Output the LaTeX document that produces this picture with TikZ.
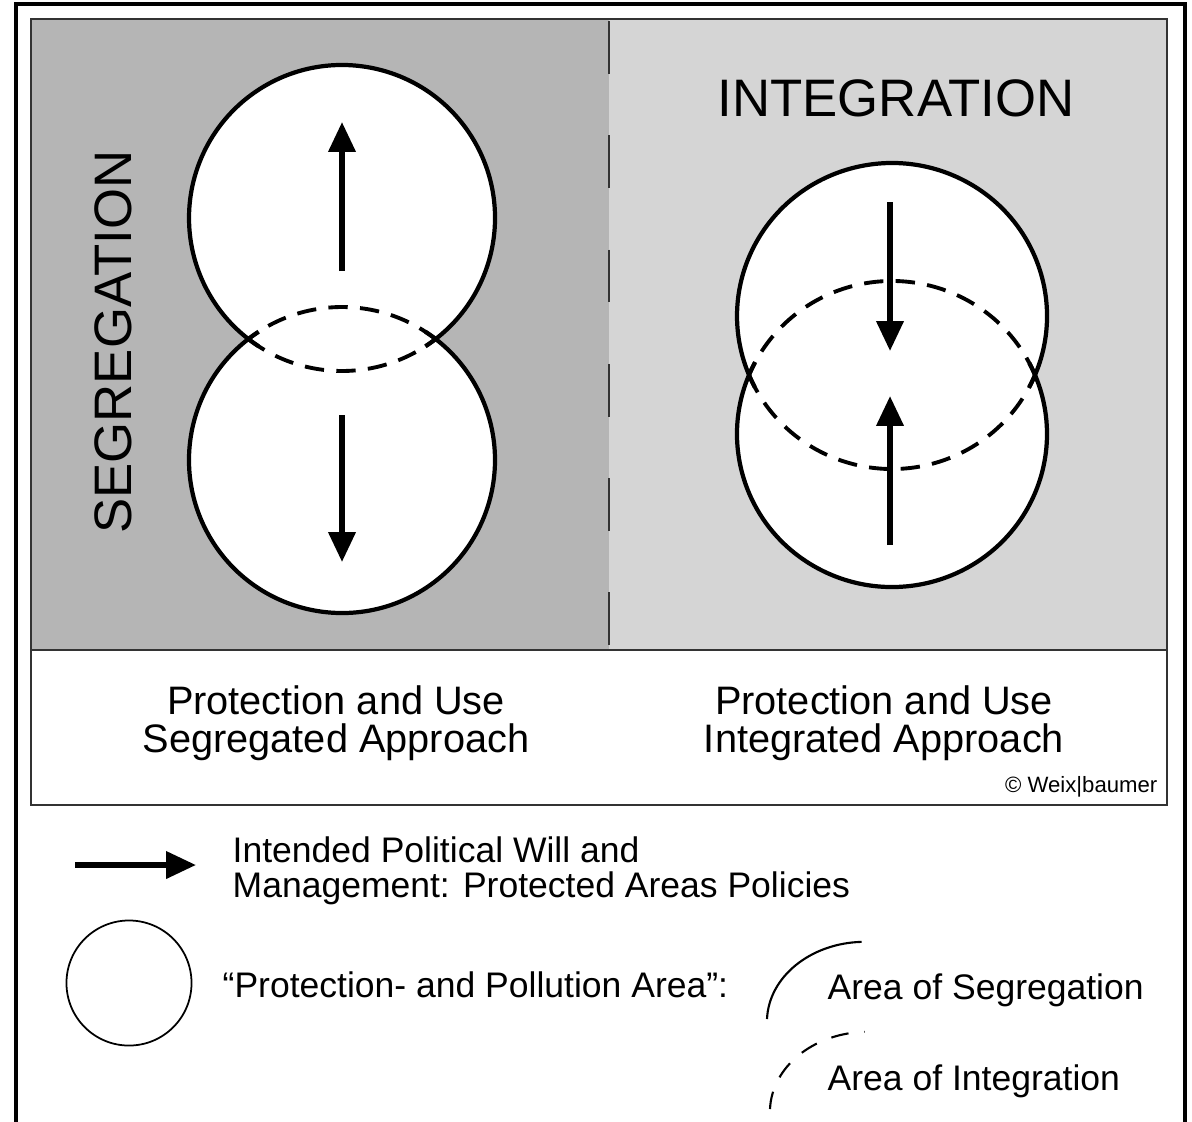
\documentclass[tikz,border=0pt]{standalone}
\usepackage{fontspec}
\setmainfont{Liberation Sans}
\usetikzlibrary{arrows.meta,positioning}
\definecolor{SegGray}{gray}{0.71}
\definecolor{IntGray}{gray}{0.835}
\tikzstyle{Frame} = [line width=0.6pt, black!80]
\tikzstyle{Rim} = [line width=1.2pt]
\tikzstyle{Lens} = [line width=1.1pt, dash pattern=on 5.5pt off 3.5pt]
\tikzstyle{Will} = [line width=1.6pt, -{Triangle[length=8.5pt,width=7.5pt]}]
\tikzstyle{Title} = [inner sep=0pt, font=\fontsize{15}{18}\selectfont]
\tikzstyle{Caption} = [inner sep=0pt, align=center, font=\fontsize{11.3}{10.8}\selectfont]
\tikzstyle{Legend} = [inner sep=0pt, align=left, font=\fontsize{10.1}{10}\selectfont]

\begin{document}
\begin{tikzpicture}[x=0.01cm, y=0.01cm]
    \useasboundingbox (0,0) rectangle (1192,-1121);
    % frames and panels
    \draw[line width=1pt] (16,-1125) |- (1185,-4) -- (1185,-1125);
    \fill[SegGray] (31,-19) rectangle (609,-650);
    \fill[IntGray] (609,-19) rectangle (1167,-650);
    \draw[Frame] (31,-19) rectangle (1167,-805);
    \draw[Frame] (31,-650) -- (1167,-650);
    \draw[Frame, dash pattern=on 15pt off 17.5pt] (609,-21) -- (609,-650);

    % segregation
    \coordinate (segTop) at (342,-218);
    \coordinate (segBot) at (342,-460);
    \fill[white] (segTop) circle[radius=153];
    \fill[white] (segBot) circle[radius=153];
    \draw[Rim]  (segTop) ++(-57:153) arc[start angle=-57, end angle=237, radius=153];
    \draw[Rim]  (segBot) ++(123:153) arc[start angle=123, end angle=417, radius=153];
    \draw[Lens] (segTop) ++(232.3:153) arc[start angle=232.3, end angle=307.7, radius=153];
    \draw[Lens] (segBot) ++(52.3:153) arc[start angle=52.3, end angle=127.7, radius=153];
    \draw[Will] (segTop) ++(0,-53) -- ++(0,149);
    \draw[Will] (segBot) ++(0,45) -- ++(0,-147);

    % integration
    \coordinate (intTop) at (892,-316);
    \coordinate (intBot) at (892,-434);
    \fill[white] (intTop) ellipse[x radius=155, y radius=153];
    \fill[white] (intBot) ellipse[x radius=155, y radius=153];
    \draw[Rim]  (intTop) ++(-27.7:155 and 153) arc[start angle=-27.7, end angle=207.7, x radius=155, y radius=153];
    \draw[Rim]  (intBot) ++(152.3:155 and 153) arc[start angle=152.3, end angle=387.7, x radius=155, y radius=153];
    \draw[Lens] (intTop) ++(202.7:155 and 153) arc[start angle=202.7, end angle=337.3, x radius=155, y radius=153];
    \draw[Lens] (intBot) ++(22.7:155 and 153) arc[start angle=22.7, end angle=157.3, x radius=155, y radius=153];
    \draw[Will] (intTop) ++(-2,114) -- ++(0,-149);
    \draw[Will] (intBot) ++(-2,-111) -- ++(0,149);

    % texts
    \node[Title, rotate=90]  (segTitle)   at (113,-342) {SEGREGATION};
    \node[Title, anchor=base] (intTitle)  at (896,-116) {INTEGRATION};
    \node[Caption] (segCaption) at (336,-723) {Protection and Use\\Segregated Approach};
    \node[Caption] (intCaption) at (884,-723) {Protection and Use\\Integrated Approach};
    \node[inner sep=0pt, anchor=base east, font=\fontsize{6.3}{7}\selectfont] (credit) at (1158,-792) {© Weix|baumer};

    % legend
    \coordinate (willFrom) at (75,-865);
    \coordinate (willTo)   at (196,-865);
    \draw[Will] (willFrom) -- (willTo);
    \node[Legend, anchor=west] (willText) at (232,-871) {Intended Political Will and\\Management: Protected Areas Policies};
    \node[draw, circle, inner sep=0pt, minimum size=1.25cm, line width=0.5pt] (areaSign) at (129,-983) {};
    \node[Legend, anchor=base west] (areaText) at (222,-997) {“Protection- and Pollution Area”:};
    \coordinate (segSign) at (767,-1019);
    \draw[line width=0.6pt] (segSign) arc[start angle=178, end angle=92, x radius=98, y radius=80];
    \node[Legend, anchor=base west] (segLabel) at (827,-999) {Area of Segregation};
    \coordinate (intSign) at (770,-1109);
    \draw[line width=0.6pt, dash pattern=on 5pt off 4.5pt] (intSign) arc[start angle=178, end angle=92, x radius=98, y radius=80];
    \node[Legend, anchor=base west] (intLabel) at (827,-1090) {Area of Integration};
\end{tikzpicture}
\end{document}
